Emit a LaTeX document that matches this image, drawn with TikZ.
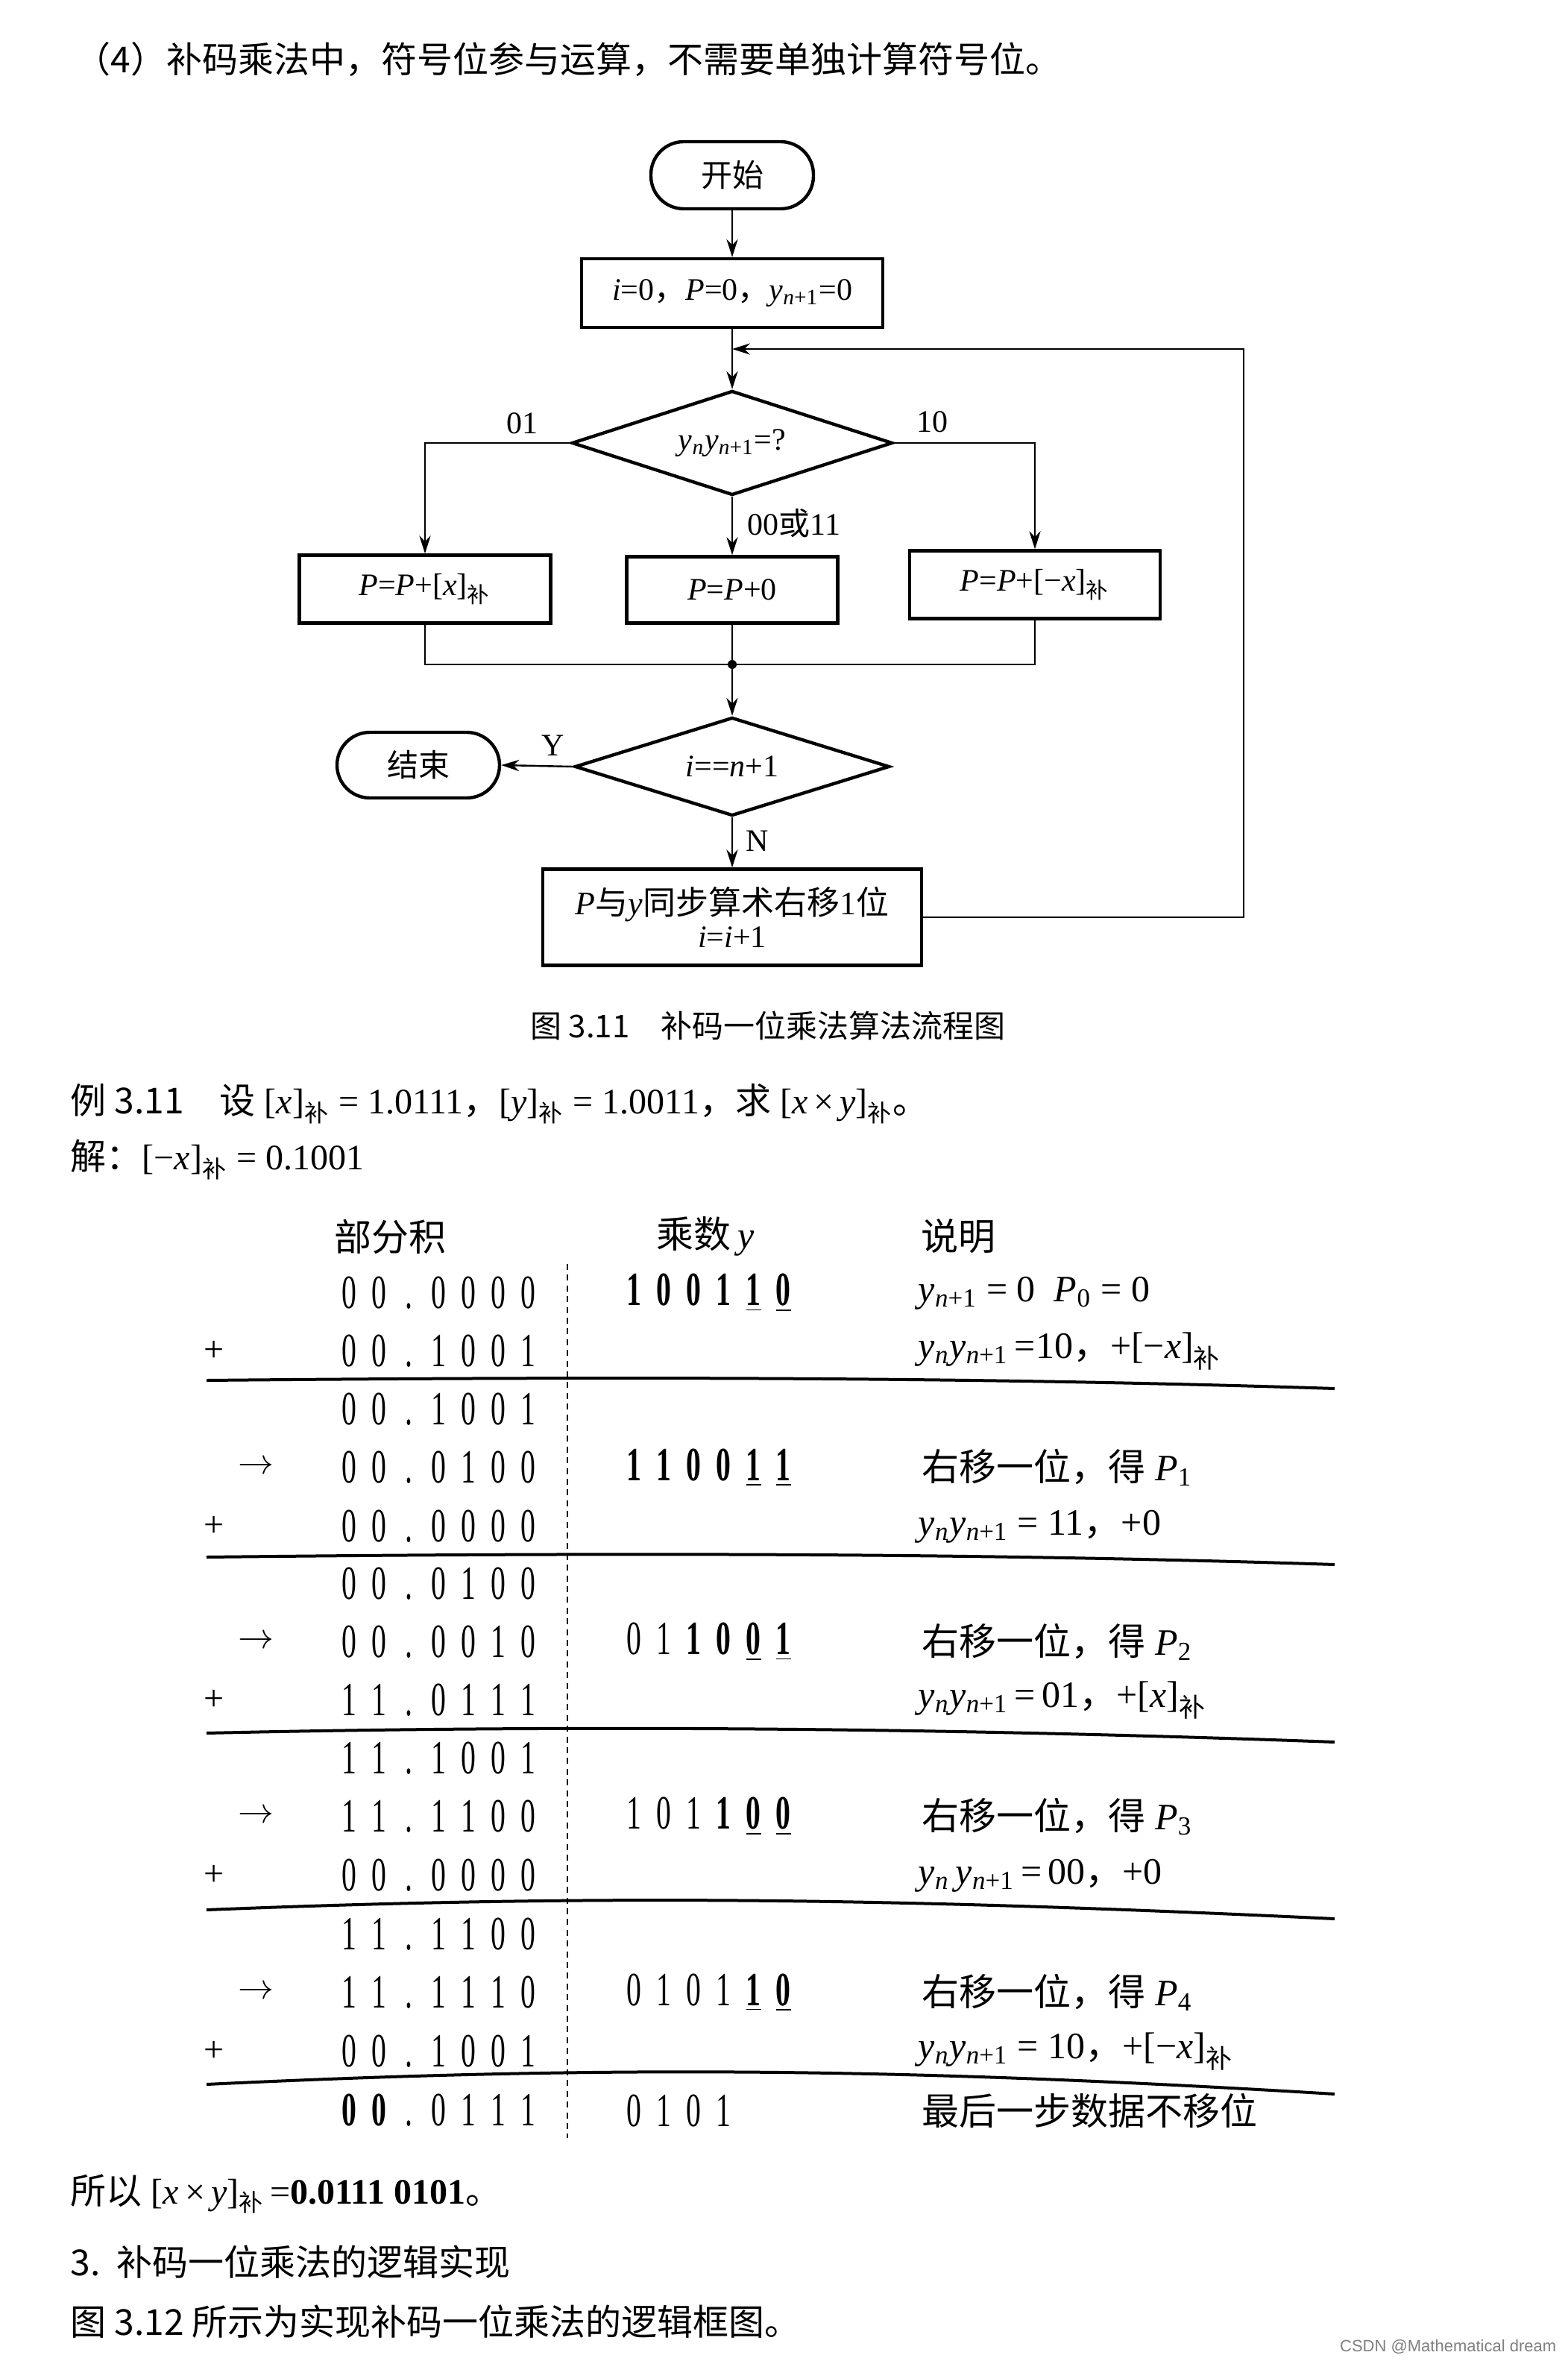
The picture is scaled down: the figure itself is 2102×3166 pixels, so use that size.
\documentclass[tikz,border=0pt]{standalone}
\usepackage{graphicx}
\usepackage{fontspec}
\setmainfont{Liberation Serif}
\newfontfamily\cjk{Noto Sans CJK SC}
\newfontfamily\wmfont{Liberation Sans}
\usetikzlibrary{shapes.geometric,arrows.meta}
\newcommand\fz[1]{\fontsize{#1}{#1}\selectfont}
\newcommand\mvar[1]{\textit{#1}}
\newcommand\sbs[1]{\textsubscript{#1}}
\newcommand\bux{\textsubscript{\cjk 补}}
\makeatletter
\newcommand\spc[1]{\@tfor\@c:=#1\do{\makebox[10pt]{\scalebox{0.62}[1]{\@c}}}}
\newcommand\bspc[1]{\@tfor\@c:=#1\do{\makebox[10pt]{\scalebox{0.62}[1]{\bfseries\@c}}}}
\newcommand\uspc[1]{\@tfor\@c:=#1\do{\makebox[10pt]{\underline{\scalebox{0.62}[1]{\bfseries\@c}}}}}
\makeatother
\tikzset{
 conn/.style={line width=0.6pt,-{Stealth[length=6pt,width=3.8pt]}},
 wire/.style={line width=0.6pt},
 procbox/.style={draw,line width=1.1pt,rectangle,inner sep=0pt,font=\fz{10.5}},
 termbox/.style={procbox,rounded corners=11pt,minimum width=54.5pt,minimum height=22.5pt},
 decbox/.style={draw,diamond,aspect=3,line width=1.1pt,inner sep=0pt,font=\fz{10.5}},
 lab/.style={inner sep=0pt,font=\fz{10.5}},
 bodytx/.style={inner sep=0pt,anchor=west,font=\fz{12}},
 headtx/.style={inner sep=0pt,font=\fz{12.5}},
 numrow/.style={inner sep=0pt,anchor=west,font=\fz{16}},
 expl/.style={inner sep=0pt,anchor=west,font=\fz{12.5}},
 opsym/.style={inner sep=0pt,font=\fz{12}},
 sepline/.style={line width=1pt},
}
\begin{document}
\begin{tikzpicture}[x=0.25pt,y=-0.25pt]
\fill[white] (0,0) rectangle (2102,3166);
\useasboundingbox (0,0) rectangle (2102,3166);

% top text
\node[bodytx] (top) at (100,80) {\cjk （4）补码乘法中，符号位参与运算，不需要单独计算符号位。};

% flowchart
\node[termbox] (start) at (982,235) {\cjk 开始};
\node[procbox,minimum width=101pt,minimum height=23pt] (init) at (982,393) {\mvar{i}=0{\cjk ，}\mvar{P}=0{\cjk ，}\mvar{y}\sbs{\mvar{n}+1}=0};
\node[decbox,minimum width=107.5pt,minimum height=35pt] (d1) at (982,594) {\mvar{y}\sbs{\mvar{n}}\mvar{y}\sbs{\mvar{n}+1}=?};
\node[procbox,minimum width=84.25pt,minimum height=22.75pt] (bL) at (570,790) {\mvar{P}=\mvar{P}+[\mvar{x}]\bux};
\node[procbox,minimum width=70.75pt,minimum height=22.25pt] (bM) at (982,791) {\mvar{P}=\mvar{P}+0};
\node[procbox,minimum width=84pt,minimum height=22.75pt] (bR) at (1388,784) {\mvar{P}=\mvar{P}+[−\mvar{x}]\bux};
\coordinate (join) at (982,891);
\node[decbox,minimum width=105.5pt,minimum height=33pt] (d2) at (982,1028) {\mvar{i}==\mvar{n}+1};
\node[termbox,minimum height=22pt] (end) at (561,1026) {\cjk 结束};
\node[procbox,minimum width=127pt,minimum height=32.25pt,align=center,font=\fontsize{10.5}{11}\selectfont] (shift) at (982,1230) {{\fz{11}\mvar{P}{\cjk 与}\mvar{y}{\cjk 同步算术右移}1{\cjk 位}}\\\mvar{i}=\mvar{i}+1};
\coordinate (loopin) at (982,468);
\coordinate (loopc) at (1668,1230);

\draw[conn] (start) -- (init);
\draw[conn] (init) -- (d1);
\draw[conn] (d1.west) -| (bL.north);
\draw[conn] (d1.east) -| (bR.north);
\draw[conn] (d1.south) -- (bM.north);
\draw[wire] (bL.south) |- (join) -| (bR.south);
\draw[wire] (bM.south) -- (join);
\fill (join) circle[radius=6];
\draw[conn] (join) -- (d2.north);
\draw[conn] (d2.west) -- (end.east);
\draw[conn] (d2.south) -- (shift.north);
\draw[conn] (shift.east) -- (loopc) |- (loopin);

\node[lab] (l01) at (700,568) {01};
\node[lab] (l10) at (1250,566) {10};
\node[lab,anchor=west] (l0011) at (1002,702) {00{\cjk 或}11};
\node[lab] (lY) at (742,1000) {Y};
\node[lab] (lN) at (1016,1128) {N};

\node[inner sep=0pt,font=\fz{10.5}] (cap) at (1030,1375) {\cjk 图 3.11\quad 补码一位乘法算法流程图};

% example
\node[bodytx] (ex1) at (94,1480) {{\cjk 例 3.11\quad 设} [\mvar{x}]\bux\ =\ 1.0111{\cjk ，}[\mvar{y}]\bux\ =\ 1.0011{\cjk ，求} [\mvar{x}\,×\,\mvar{y}]\bux{\cjk 。}};
\node[bodytx] (ex2) at (94,1555) {{\cjk 解：}[−\mvar{x}]\bux\ =\ 0.1001};

% table headers
\node[headtx] (h1) at (523,1658) {\cjk 部分积};
\node[headtx] (h2) at (946,1658) {{\cjk 乘数}\,\mvar{y}};
\node[headtx] (h3) at (1285,1658) {\cjk 说明};

% dotted divider
\draw[line width=0.7pt,dash pattern=on 2pt off 1.6pt] (761,1695) -- (761,2867);

% separator lines
\draw[sepline] (277,1851) .. controls (800,1846) and (1300,1846) .. (1790,1862);
\draw[sepline] (277,2088) .. controls (800,2082) and (1300,2082) .. (1790,2098);
\draw[sepline] (277,2324) .. controls (800,2312) and (1300,2318) .. (1790,2336);
\draw[sepline] (277,2561) .. controls (800,2540) and (1200,2545) .. (1790,2573);
\draw[sepline] (277,2795) .. controls (800,2770) and (1200,2772) .. (1790,2808);

% operators
\node[opsym] (o2) at (287,1812) {+};
\node[opsym] (o4) at (343,1968) {$\rightarrow$};
\node[opsym] (o5) at (287,2047) {+};
\node[opsym] (o7) at (343,2202) {$\rightarrow$};
\node[opsym] (o8) at (287,2280) {+};
\node[opsym] (o10) at (343,2436) {$\rightarrow$};
\node[opsym] (o11) at (287,2515) {+};
\node[opsym] (o13) at (343,2672) {$\rightarrow$};
\node[opsym] (o14) at (287,2751) {+};

% partial products
\node[numrow] (p1) at (448,1734) {\spc{00.0000}};
\node[numrow] (p2) at (448,1812) {\spc{00.1001}};
\node[numrow] (p3) at (448,1890) {\spc{00.1001}};
\node[numrow] (p4) at (448,1968) {\spc{00.0100}};
\node[numrow] (p5) at (448,2047) {\spc{00.0000}};
\node[numrow] (p6) at (448,2124) {\spc{00.0100}};
\node[numrow] (p7) at (448,2202) {\spc{00.0010}};
\node[numrow] (p8) at (448,2280) {\spc{11.0111}};
\node[numrow] (p9) at (448,2358) {\spc{11.1001}};
\node[numrow] (p10) at (448,2436) {\spc{11.1100}};
\node[numrow] (p11) at (448,2515) {\spc{00.0000}};
\node[numrow] (p12) at (448,2594) {\spc{11.1100}};
\node[numrow] (p13) at (448,2672) {\spc{11.1110}};
\node[numrow] (p14) at (448,2751) {\spc{00.1001}};
\node[numrow] (p15) at (448,2830) {\bspc{00}\spc{.0111}};

% multiplier
\node[numrow] (m1) at (830,1734) {\bspc{1001}\uspc{10}};
\node[numrow] (m4) at (830,1968) {\bspc{1100}\uspc{11}};
\node[numrow] (m7) at (830,2202) {\spc{01}\bspc{10}\uspc{01}};
\node[numrow] (m10) at (830,2436) {\spc{101}\bspc{1}\uspc{00}};
\node[numrow] (m13) at (830,2672) {\spc{0101}\uspc{10}};
\node[numrow] (m15) at (830,2830) {\spc{0101}};

% explanations
\node[expl] (e1) at (1231,1734) {\mvar{y}\sbs{\mvar{n}+1}\ =\ 0\ \ \mvar{P}\sbs{0}\ =\ 0};
\node[expl] (e2) at (1231,1812) {\mvar{y}\sbs{\mvar{n}}\mvar{y}\sbs{\mvar{n}+1}\,=10{\cjk ，}+[−\mvar{x}]\bux};
\node[expl] (e4) at (1236,1968) {{\cjk 右移一位，得} \mvar{P}\sbs{1}};
\node[expl] (e5) at (1231,2047) {\mvar{y}\sbs{\mvar{n}}\mvar{y}\sbs{\mvar{n}+1}\ =\ 11{\cjk ，}+0};
\node[expl] (e7) at (1236,2202) {{\cjk 右移一位，得} \mvar{P}\sbs{2}};
\node[expl] (e8) at (1231,2280) {\mvar{y}\sbs{\mvar{n}}\mvar{y}\sbs{\mvar{n}+1}\,=\,01{\cjk ，}+[\mvar{x}]\bux};
\node[expl] (e10) at (1236,2436) {{\cjk 右移一位，得} \mvar{P}\sbs{3}};
\node[expl] (e11) at (1231,2515) {\mvar{y}\sbs{\mvar{n}}\,\mvar{y}\sbs{\mvar{n}+1}\,=\,00{\cjk ，}+0};
\node[expl] (e13) at (1236,2672) {{\cjk 右移一位，得} \mvar{P}\sbs{4}};
\node[expl] (e14) at (1231,2751) {\mvar{y}\sbs{\mvar{n}}\mvar{y}\sbs{\mvar{n}+1}\ =\ 10{\cjk ，}+[−\mvar{x}]\bux};
\node[expl] (e15) at (1236,2830) {\cjk 最后一步数据不移位};

% bottom text
\node[bodytx] (s1) at (94,2942) {{\cjk 所以} [\mvar{x}\,×\,\mvar{y}]\bux\,=\textbf{0.0111 0101}{\cjk 。}};
\node[bodytx] (s2) at (94,3033) {\cjk 3.\ \ 补码一位乘法的逻辑实现};
\node[bodytx] (s3) at (94,3113) {\cjk 图 3.12 所示为实现补码一位乘法的逻辑框图。};

\node[inner sep=0pt,anchor=east,font=\wmfont\fz{5.5},text=gray] (wm) at (2088,3147) {CSDN @Mathematical dream};
\end{tikzpicture}
\end{document}
